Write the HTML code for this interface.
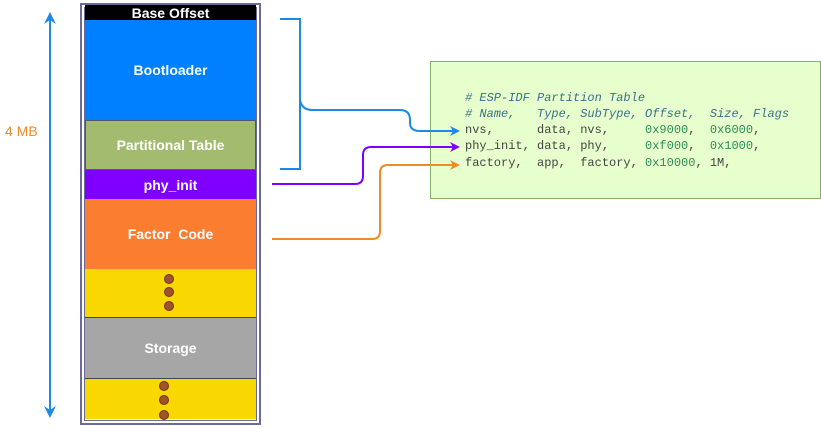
<!DOCTYPE html>
<html><head><style>
body{margin:0;width:821px;height:429px;background:#fff;position:relative;overflow:hidden;font-family:"Liberation Sans",sans-serif}
.b{position:absolute;left:85px;width:171px;color:#fff;font-weight:bold;font-size:14px;display:flex;align-items:center;justify-content:center;box-sizing:border-box}
.dot{position:absolute;width:8px;height:8px;border-radius:50%;background:#a0522d;border:1px solid #6b3416}
.code{position:absolute;left:465px;font-family:"Liberation Mono",monospace;font-size:12px;white-space:pre;color:#444}
.c{color:#3a6e8e;font-style:italic}
.n{color:#2e8b57}
</style></head><body>
<div style="position:absolute;left:80px;top:3px;width:177px;height:418px;border:2px solid #6b6b9a;box-shadow:inset 0 0 0 2px #fff,inset 0 0 0 3px #6b6b9a"></div>
<div class="b" style="top:5px;height:15px;background:#000">Base Offset</div>
<div class="b" style="top:20px;height:100px;background:#007fff">Bootloader</div>
<div class="b" style="top:120px;height:50px;background:#a2bb6e;border:1px solid #556">Partitional Table</div>
<div class="b" style="top:170px;height:29px;background:#7f00ff">phy_init</div>
<div class="b" style="top:199px;height:70px;background:#fb7d2f">Factor&nbsp; Code</div>
<div class="b" style="top:269px;height:48px;background:#f8d800"></div>
<div class="b" style="top:317px;height:62px;background:#a6a6a6;border-top:1px solid #444;border-bottom:1px solid #444">Storage</div>
<div class="b" style="top:379px;height:40px;background:#f8d800"></div>
<div class="dot" style="left:164px;top:274px"></div>
<div class="dot" style="left:164px;top:287px"></div>
<div class="dot" style="left:164px;top:301px"></div>
<div class="dot" style="left:159px;top:381px"></div>
<div class="dot" style="left:159px;top:395px"></div>
<div class="dot" style="left:159px;top:410px"></div>
<div style="position:absolute;left:5px;top:123px;color:#f08a24;font-size:14px">4 MB</div>
<div style="position:absolute;left:430px;top:61px;width:389px;height:136px;background:#e6ffcc;border:1px solid #82b366"></div>
<div class="code c" style="top:91px"># ESP-IDF Partition Table</div>
<div class="code c" style="top:107px"># Name,   Type, SubType, Offset,  Size, Flags</div>
<div class="code" style="top:123px">nvs,      data, nvs,     <span class="n">0x9000</span>,  <span class="n">0x6000</span>,</div>
<div class="code" style="top:139px">phy_init, data, phy,     <span class="n">0xf000</span>,  <span class="n">0x1000</span>,</div>
<div class="code" style="top:156px">factory,  app,  factory, <span class="n">0x10000</span>, 1M,</div>
<svg width="821" height="429" style="position:absolute;left:0;top:0">
<defs>
<marker id="ab" markerWidth="10" markerHeight="10" refX="8" refY="5" orient="auto" markerUnits="userSpaceOnUse"><path d="M0,0L10,5L0,10L3,5z" fill="#1e88e5"/></marker>
<marker id="ap" markerWidth="10" markerHeight="10" refX="8" refY="5" orient="auto" markerUnits="userSpaceOnUse"><path d="M0,0L10,5L0,10L3,5z" fill="#7f00ff"/></marker>
<marker id="ao" markerWidth="10" markerHeight="10" refX="8" refY="5" orient="auto" markerUnits="userSpaceOnUse"><path d="M0,0L10,5L0,10L3,5z" fill="#f08a24"/></marker>
<marker id="as" markerWidth="12" markerHeight="12" refX="10" refY="6" orient="auto-start-reverse" markerUnits="userSpaceOnUse"><path d="M0,0L12,6L0,12L4,6z" fill="#1e88e5"/></marker>
</defs>
<line x1="50" y1="14" x2="50" y2="416" stroke="#1e88e5" stroke-width="2" marker-start="url(#as)" marker-end="url(#as)"/>
<path d="M280,19H300V169H280" fill="none" stroke="#1e88e5" stroke-width="2"/>
<path d="M300,100Q302,110 312,110H400Q410,110 410,120V123Q410,131 420,131H458" fill="none" stroke="#1e88e5" stroke-width="2" marker-end="url(#ab)"/>
<path d="M272,184H355Q363,184 363,176V155Q363,147 371,147H458" fill="none" stroke="#7f00ff" stroke-width="2" marker-end="url(#ap)"/>
<path d="M272,239H372Q380,239 380,231V173Q380,165 388,165H458" fill="none" stroke="#f08a24" stroke-width="2" marker-end="url(#ao)"/>
</svg>
</body></html>
